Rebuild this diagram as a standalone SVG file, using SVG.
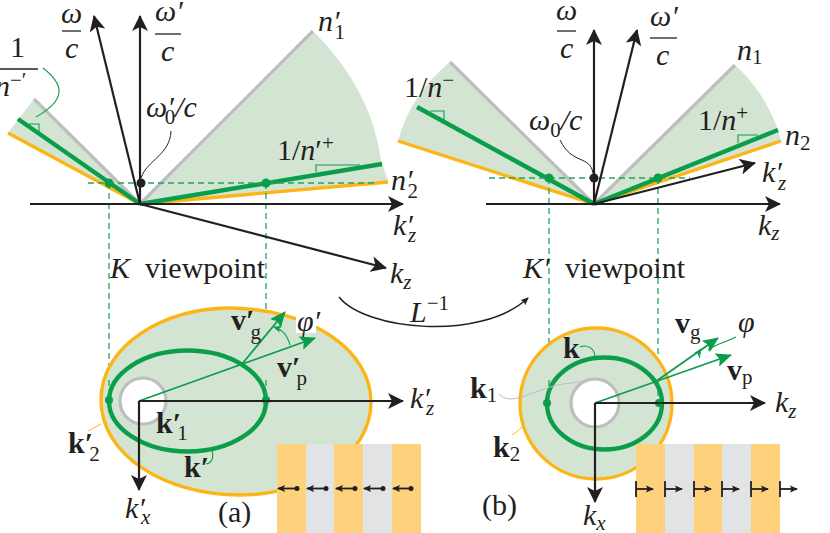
<svg xmlns="http://www.w3.org/2000/svg" width="830" height="533" viewBox="0 0 830 533">
<style>
text{font-family:"Liberation Serif","DejaVu Serif",serif;fill:#231f20;font-size:30px}
.i{font-style:italic}
.b{font-weight:bold}
.s{font-size:21px;font-weight:normal;font-style:normal}
.si{font-size:21px;font-style:italic;font-weight:normal}
.sh{fill:#d3e5d2;stroke:none}
.ax{stroke:#231f20;stroke-width:2.2;fill:none}
.axt{stroke:#231f20;stroke-width:1.8;fill:none}
.gr{stroke:#bcbec0;stroke-width:3.2;fill:none}
.or{stroke:#fdb515;stroke-width:3.4;fill:none}
.gn{stroke:#0a9e4b;stroke-width:4.4;fill:none}
.gt{stroke:#0a9e4b;stroke-width:1.1;fill:none}
.gm{stroke:#0a9e4b;stroke-width:1.8;fill:none}
.da{stroke:#1fa65a;stroke-width:1.3;stroke-dasharray:6 4;fill:none}
.bar{stroke:#231f20;stroke-width:1.3}
.l{stroke:#231f20;stroke-width:1;fill:none}
.so{fill:#fed17c}.sg{fill:#e1e3e4}
</style>
<defs>
<marker id="a" markerUnits="userSpaceOnUse" viewBox="0 0 16 16" refX="15" refY="8" markerWidth="16" markerHeight="16" orient="auto"><path d="M0,0L16,8L0,16L4,8Z" fill="#231f20"/></marker>
<marker id="g" markerUnits="userSpaceOnUse" viewBox="0 0 16 14" refX="15" refY="7" markerWidth="16" markerHeight="14" orient="auto"><path d="M0,0L16,7L0,14L3,7Z" fill="#0a9e4b"/></marker>
<marker id="s" markerUnits="userSpaceOnUse" viewBox="0 0 8 8" refX="7" refY="4" markerWidth="8" markerHeight="8" orient="auto"><path d="M0,0.5L8,4L0,7.5L1.5,4Z" fill="#231f20"/></marker>
<marker id="sg" markerUnits="userSpaceOnUse" viewBox="0 0 8 8" refX="7" refY="4" markerWidth="8" markerHeight="8" orient="auto"><path d="M0,0.5L8,4L0,7.5L1.5,4Z" fill="#0a9e4b"/></marker>
</defs>

<g id="left-dispersion">
<path class="sh" d="M140,204L313,31Q371,88 381,160L388,181Z"/>
<path class="sh" d="M140,204L34,99L8,133Z"/>
<path class="gr" d="M140,204L313,31M140,204L34,99"/>
<path class="or" d="M140,204L388,182M140,204L8,133"/>
<path class="gn" d="M140,204L382,164M140,204L18,119"/>
<path class="gt" d="M316,172V165H360M29,124H39V132"/>
<path class="da" d="M88,183H375M109,183V400M266,183V400"/>
<circle cx="109" cy="183" r="4.500" fill="#0a9e4b"/><circle cx="266" cy="183" r="4.500" fill="#0a9e4b"/>
<path class="l" d="M171,131C170,155 147,160 141,178"/>
<path class="gt" d="M43,68C65,85 66,100 36,117"/>
</g>
<g id="left-axes">
<path class="ax" d="M30,204H403" marker-end="url(#a)"/>
<path class="ax" d="M140,204V16" marker-end="url(#a)"/>
<path class="ax" d="M140,204L94,16" marker-end="url(#a)"/>
<path class="ax" d="M140,204L386,268" marker-end="url(#a)"/>
<circle cx="141" cy="183" r="4.500" fill="#231f20"/>
</g>
<g id="left-labels">
<text class="i" x="61" y="23">ω</text><line class="bar" x1="62" y1="31" x2="81" y2="31"/><text class="i" x="65" y="58">c</text>
<text class="i" x="155" y="21">ω′</text><line class="bar" x1="155" y1="34" x2="181" y2="34"/><text class="i" x="161" y="61">c</text>
<text x="10" y="57">1</text><line class="bar" x1="0" y1="69" x2="38" y2="69"/><text class="i" x="-5" y="96">n<tspan class="s" dy="-9">−′</tspan></text>
<text class="i" x="318" y="31">n′<tspan class="s" dx="-5" dy="8">1</tspan></text>
<text class="i" x="391" y="190">n′<tspan class="s" dx="-5" dy="8">2</tspan></text>
<text class="i" x="146" y="117">ω′<tspan class="s" dx="-9" dy="7">0</tspan><tspan dy="-7">/c</tspan></text>
<text x="277" y="160">1/<tspan class="i">n</tspan>′<tspan class="s" dy="-10">+</tspan></text>
<text class="i" x="393" y="235">k′<tspan class="si" dx="-5" dy="7">z</tspan></text>
<text class="i" x="390" y="283">k<tspan class="si" dy="6">z</tspan></text>
<text class="i" x="110" y="278">K</text><text x="145" y="278">viewpoint</text>
</g>

<g id="right-dispersion">
<path class="sh" d="M594,204L735,65Q764,91 778,130L781,141Z"/>
<path class="sh" d="M594,204L450,62Q410,95 398,141Z"/>
<path class="gr" d="M594,204L735,65M594,204L450,62"/>
<path class="or" d="M594,204L781,141M594,204L398,141"/>
<path class="gn" d="M594,204L778,130M594,204L417,107"/>
<path class="gt" d="M738,143V135H758M430,111H444V120"/>
<path class="da" d="M489,178H690M549,178V400M658,178V400"/>
<circle cx="549" cy="178" r="4.500" fill="#0a9e4b"/><circle cx="658" cy="178" r="4.500" fill="#0a9e4b"/>
<path class="l" d="M560,140C572,165 590,155 593,173"/>
</g>
<g id="right-axes">
<path class="ax" d="M486,204H780" marker-end="url(#a)"/>
<path class="ax" d="M594,204V30" marker-end="url(#a)"/>
<path class="ax" d="M594,204L637,30" marker-end="url(#a)"/>
<path class="ax" d="M594,204L755,163" marker-end="url(#a)"/>
<circle cx="594" cy="178" r="4.500" fill="#231f20"/>
</g>
<g id="right-labels">
<text class="i" x="556" y="20">ω</text><line class="bar" x1="557" y1="31" x2="576" y2="31"/><text class="i" x="560" y="58">c</text>
<text class="i" x="650" y="26">ω′</text><line class="bar" x1="650" y1="38" x2="677" y2="38"/><text class="i" x="656" y="65">c</text>
<text x="404" y="97">1/<tspan class="i">n</tspan><tspan class="s" dy="-10">−</tspan></text>
<text class="i" x="737" y="60">n<tspan class="s" dy="4">1</tspan></text>
<text class="i" x="785" y="145">n<tspan class="s" dy="5">2</tspan></text>
<text class="i" x="529" y="130">ω<tspan class="s" dy="7">0</tspan><tspan dy="-7">/c</tspan></text>
<text x="698" y="130">1/<tspan class="i">n</tspan><tspan class="s" dy="-10">+</tspan></text>
<text class="i" x="762" y="182">k′<tspan class="si" dx="-4" dy="8">z</tspan></text>
<text class="i" x="758" y="235">k<tspan class="si" dy="5">z</tspan></text>
<text class="i" x="523" y="278">K′</text><text x="565" y="278">viewpoint</text>
</g>

<g id="transform">
<path class="ax" style="stroke-width:1.500" d="M339,297C365,330 480,342 528,298" marker-end="url(#s)"/>
<text class="i" x="410" y="322">L<tspan class="s" dy="-12">−1</tspan></text>
</g>

<g id="left-section">
<path class="sh" d="M101,400C101,345 165,308 228,308C310,308 371,350 371,402C371,455 310,495 240,495C165,495 101,455 101,400ZM143,378a23,23 0 1,0 .01,0Z" fill-rule="evenodd"/>
<path class="or" d="M101,400C101,345 165,308 228,308C310,308 371,350 371,402C371,455 310,495 240,495C165,495 101,455 101,400Z"/>
<circle class="gr" cx="143" cy="401" r="23"/>
<ellipse class="gn" cx="187.500" cy="401" rx="78.500" ry="50.500"/>
<rect x="296" y="314" width="20" height="19" fill="#fff"/>
<path class="da" d="M109,380V400M266,380V400"/>
<circle cx="109" cy="400" r="4" fill="#0a9e4b"/><circle cx="266" cy="400" r="4" fill="#0a9e4b"/>
<path class="gm" d="M139,401L315,338" marker-end="url(#g)"/>
<path class="gm" d="M242,364L285,312" marker-end="url(#g)"/>
<path class="gt" d="M290,345C287,335 283,330 274,327" marker-end="url(#sg)"/>
<path class="ax" d="M139,401H403" marker-end="url(#a)"/>
<path class="ax" d="M139,401V490" marker-end="url(#a)"/>
<path class="gt" d="M212,449C214,458 212,463 206,464"/>
<path style="stroke:#fdb515;stroke-width:1;fill:none" d="M101,424L88,431"/>
<text class="b" x="231" y="330">v′<tspan class="s" dx="-4" dy="9">g</tspan></text>
<text class="i" x="297" y="331">φ′</text>
<text class="b" x="277" y="377">v′<tspan class="s" dx="-4" dy="8">p</tspan></text>
<text class="b" x="156" y="433">k′<tspan class="s" dx="-4" dy="7">1</tspan></text>
<text class="b" x="184" y="477">k′</text>
<text class="b" x="68" y="453">k′<tspan class="s" dx="-4" dy="8">2</tspan></text>
<text class="i" x="410" y="408">k′<tspan class="si" dx="-4" dy="7">z</tspan></text>
<text class="i" x="125" y="518">k′<tspan class="si" dx="-4" dy="6">x</tspan></text>
<text x="218" y="522">(a)</text>
</g>
<g id="left-inset">
<rect class="so" x="277" y="444" width="29" height="89"/><rect class="sg" x="306" y="444" width="28" height="89"/><rect class="so" x="334" y="444" width="29" height="89"/><rect class="sg" x="363" y="444" width="29" height="89"/><rect class="so" x="392" y="444" width="29" height="89"/>
<path class="axt" d="M297,488.500H278" marker-end="url(#s)"/><path class="axt" d="M326,488.500H307" marker-end="url(#s)"/><path class="axt" d="M355,488.500H336" marker-end="url(#s)"/><path class="axt" d="M383,488.500H364" marker-end="url(#s)"/><path class="axt" d="M411,488.500H393" marker-end="url(#s)"/>
<g fill="#231f20"><circle cx="297" cy="488.500" r="2.500"/><circle cx="326" cy="488.500" r="2.500"/><circle cx="355" cy="488.500" r="2.500"/><circle cx="383" cy="488.500" r="2.500"/><circle cx="411" cy="488.500" r="2.500"/></g>
</g>

<g id="right-section">
<path class="sh" d="M520,403.500a76,75.500 0 1,0 152,0a76,75.500 0 1,0 -152,0ZM571,403a24,24 0 1,0 48,0a24,24 0 1,0 -48,0Z" fill-rule="evenodd"/>
<ellipse class="or" cx="596" cy="403.500" rx="76" ry="75.500"/>
<circle class="gr" cx="595" cy="403" r="24"/>
<ellipse class="gn" cx="604.500" cy="403.500" rx="57.500" ry="46"/>
<path class="da" d="M549,380V400M658,380V400"/>
<circle cx="547" cy="403" r="4" fill="#0a9e4b"/><circle cx="659" cy="403" r="4" fill="#0a9e4b"/>
<path class="gm" d="M595,403L731,355" marker-end="url(#g)"/>
<path class="gm" d="M655,382L718,338" marker-end="url(#g)"/>
<path class="gt" d="M700,358C697,353 699,352 701,349" marker-end="url(#sg)"/>
<path class="gt" d="M708,350C718,343 724,343 736,337"/>
<path class="ax" d="M595,403H765" marker-end="url(#a)"/>
<path class="ax" d="M595,403V502" marker-end="url(#a)"/>
<path class="gt" d="M580,347C587,344 594,348 595,356"/>
<path d="M499,394C510,405 525,395 550,387C565,382 580,384 595,378" style="stroke:#bcbec0;stroke-width:1;fill:none"/>
<path style="stroke:#fdb515;stroke-width:1;fill:none" d="M512,435C520,430 521,428 523,425"/>
<text class="b" x="675" y="333">v<tspan class="s" dy="6">g</tspan></text>
<text class="i" x="738" y="332">φ</text>
<text class="b" x="727" y="380">v<tspan class="s" dy="4">p</tspan></text>
<text class="b" x="563" y="358">k</text>
<text class="b" x="470" y="398">k<tspan class="s" dy="4">1</tspan></text>
<text class="b" x="493" y="457">k<tspan class="s" dy="4">2</tspan></text>
<text class="i" x="775" y="412">k<tspan class="si" dy="6">z</tspan></text>
<text class="i" x="583" y="525">k<tspan class="si" dy="5">x</tspan></text>
<text x="482" y="515">(b)</text>
</g>
<g id="right-inset">
<rect class="so" x="636" y="444" width="29" height="89"/><rect class="sg" x="665" y="444" width="29" height="89"/><rect class="so" x="694" y="444" width="28" height="89"/><rect class="sg" x="722" y="444" width="29" height="89"/><rect class="so" x="751" y="444" width="29" height="89"/>
<path class="axt" d="M636,489H653" marker-end="url(#s)"/><path class="axt" d="M665,489H682" marker-end="url(#s)"/><path class="axt" d="M694,489H711" marker-end="url(#s)"/><path class="axt" d="M722,489H739" marker-end="url(#s)"/><path class="axt" d="M751,489H768" marker-end="url(#s)"/><path class="axt" d="M780,489H797" marker-end="url(#s)"/>
<path class="axt" d="M636,481V497M665,481V497M694,481V497M722,481V497M751,481V497M780,481V497"/>
</g>
</svg>
